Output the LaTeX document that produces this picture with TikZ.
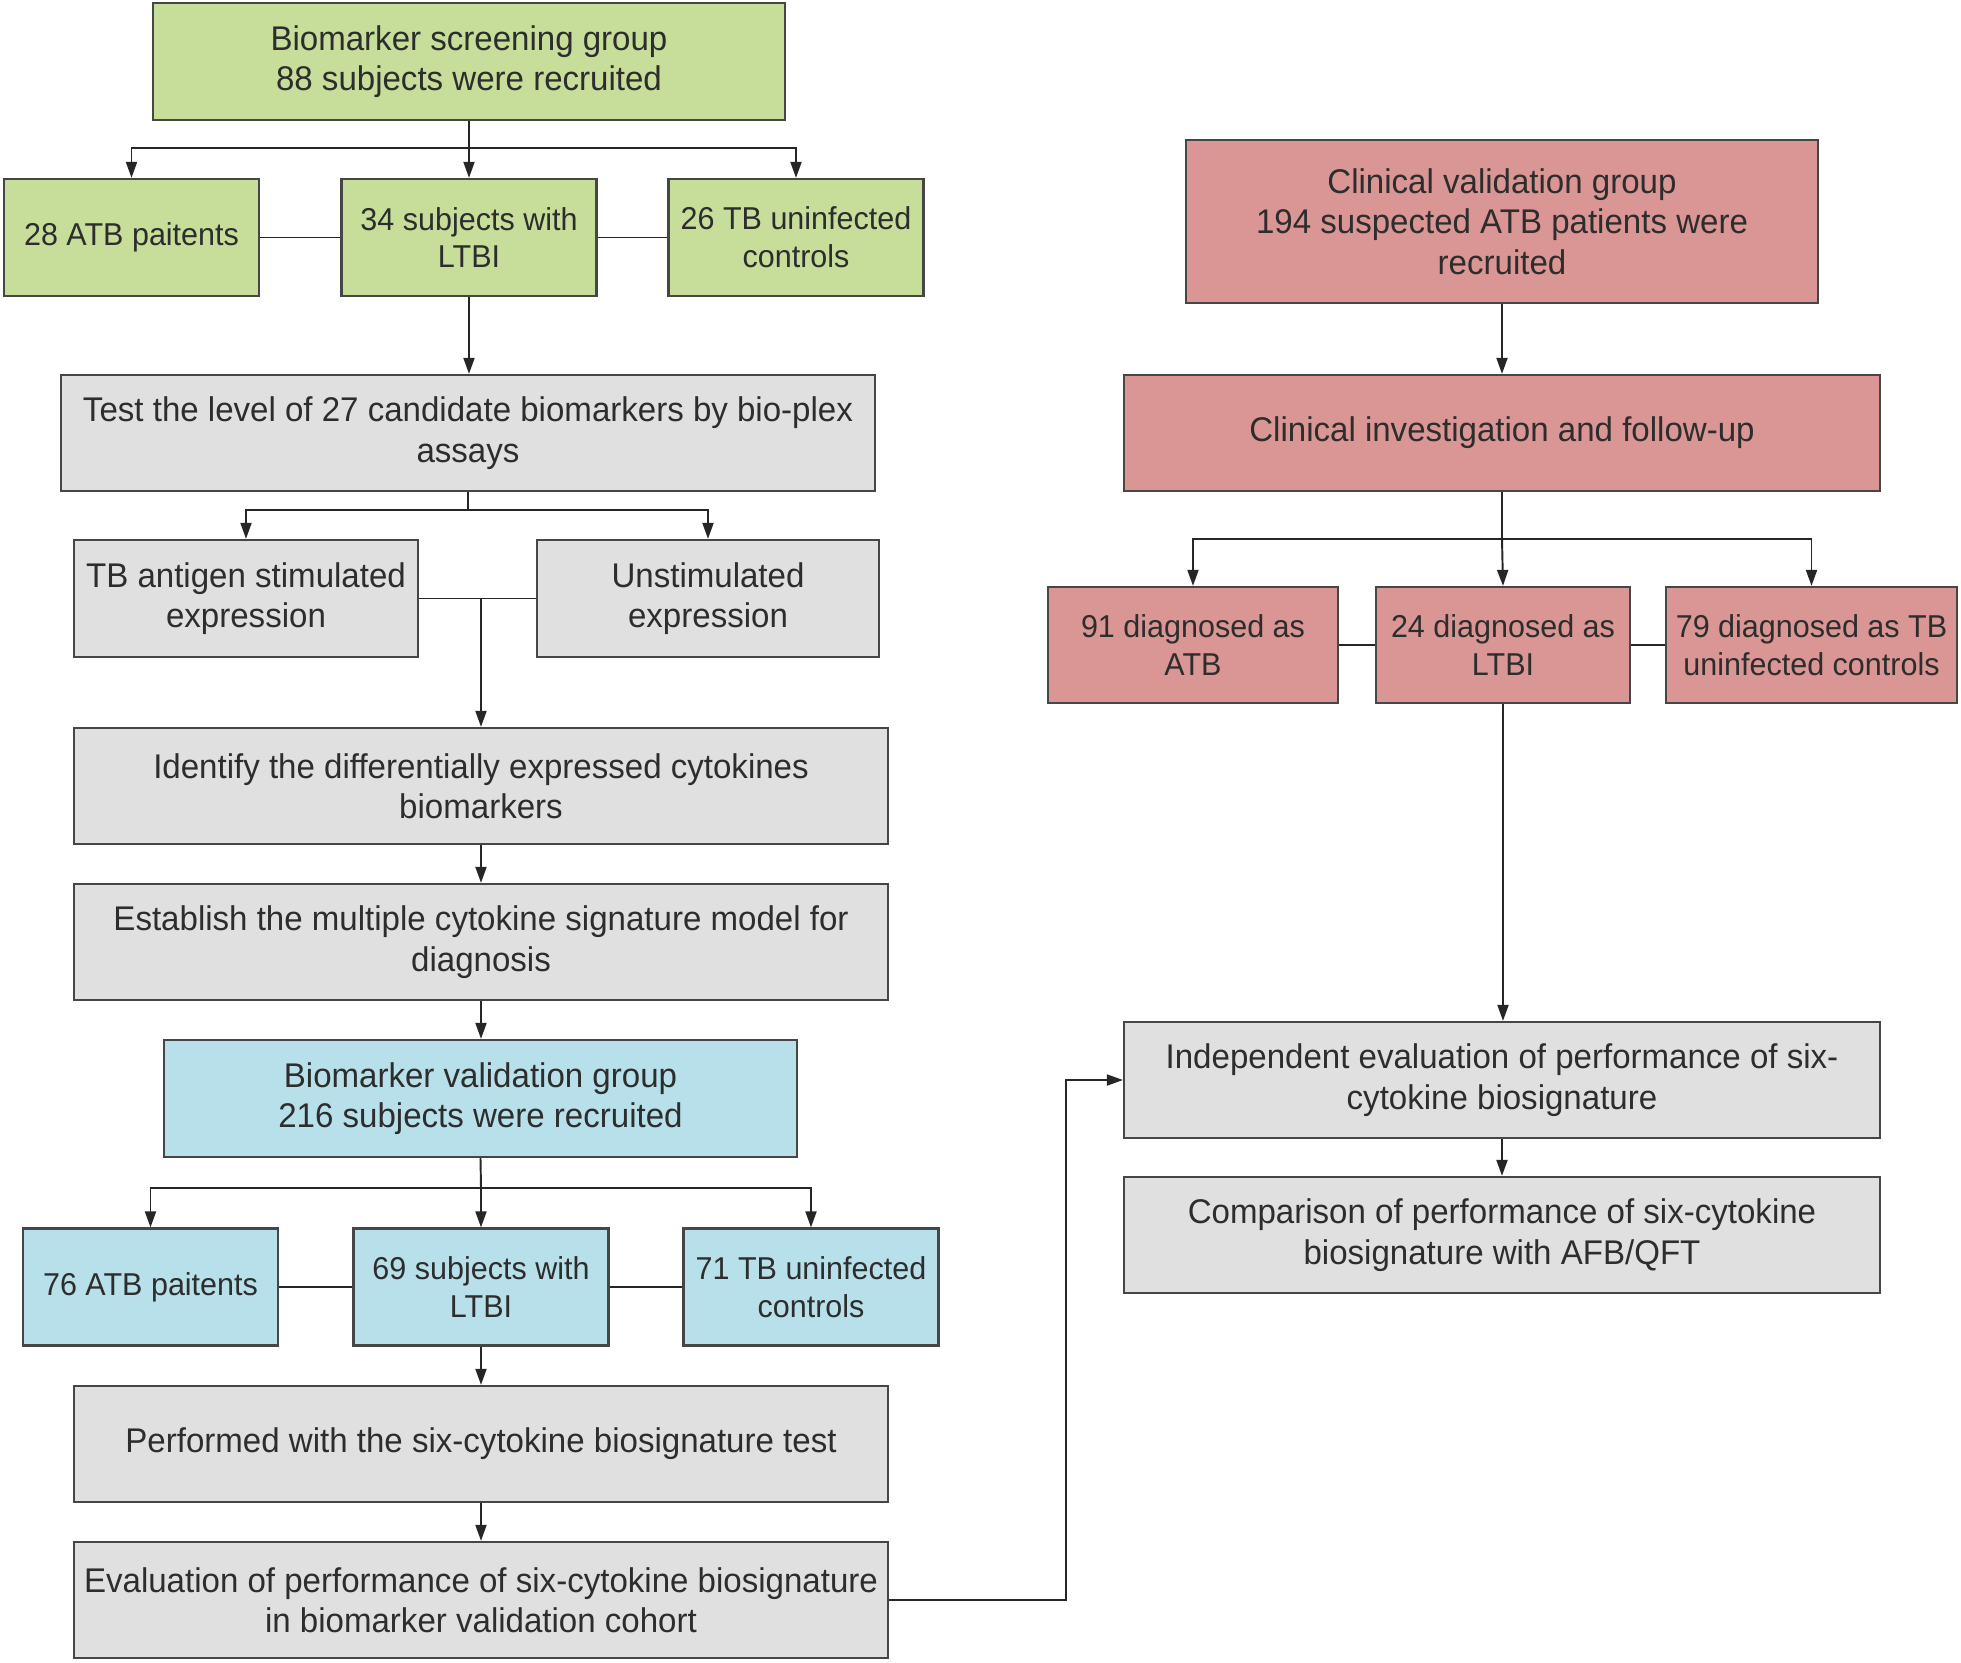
\documentclass[tikz,border=0pt]{standalone}
\usepackage{fontspec}
\setmainfont{Liberation Sans}[FakeStretch=0.965]
\usepackage{xcolor}
\usepackage{tikz}
\usetikzlibrary{shapes,arrows,arrows.meta,positioning}

\definecolor{screengreen}{RGB}{198,222,154}
\definecolor{validblue}{RGB}{183,224,234}
\definecolor{clinred}{RGB}{218,150,148}
\definecolor{stepgray}{RGB}{224,224,224}
\definecolor{edgegray}{RGB}{70,70,70}
\definecolor{textgray}{RGB}{45,45,45}

\begin{document}
\begin{tikzpicture}[
    x=0.02cm, y=-0.02cm,
    box/.style={rectangle, draw=edgegray, line width=1.3pt, text=textgray, align=center, font=\fontsize{19.5}{23}\selectfont, inner sep=2pt},
    green/.style={box, fill=screengreen},
    blue/.style={box, fill=validblue},
    red/.style={box, fill=clinred},
    grey/.style={box, fill=stepgray},
    smallfont/.style={font=\fontsize{18}{21.5}\selectfont},
    small/.style={smallfont, minimum width=5.1cm, minimum height=2.34cm},
    wide/.style={minimum width=16.28cm, minimum height=2.32cm},
    line/.style={draw=black!85, line width=1.1pt},
    arrow/.style={line, -{Triangle[length=0.32cm,width=0.22cm]}}
]
\useasboundingbox (0,0) rectangle (1961,1663);

% Biomarker screening group
\node [green, minimum width=12.64cm, minimum height=2.34cm] (screen) at (469,61.5) {Biomarker screening group\\88 subjects were recruited};
\node [green, small] (atb1) at (131.5,237.5) {28 ATB paitents};
\node [green, small] (ltbi1) at (469,237.5) {34 subjects with\\LTBI};
\node [green, small] (ctl1) at (796,237.5) {26 TB uninfected\\controls};

% Screening steps
\node [grey, wide] (test) at (468,433) {Test the level of 27 candidate biomarkers by bio-plex\\assays};
\node [grey, minimum width=6.88cm, minimum height=2.34cm] (stim) at (246,598.5) {TB antigen stimulated\\expression};
\node [grey, minimum width=6.84cm, minimum height=2.34cm] (unstim) at (708,598.5) {Unstimulated\\expression};
\node [grey, wide] (ident) at (481,786) {Identify the differentially expressed cytokines\\biomarkers};
\node [grey, wide] (estab) at (481,942) {Establish the multiple cytokine signature model for\\diagnosis};

% Biomarker validation group
\node [blue, minimum width=12.66cm, minimum height=2.34cm] (bval) at (480.5,1098.5) {Biomarker validation group\\216 subjects were recruited};
\node [blue, small] (atb2) at (150.5,1287) {76 ATB paitents};
\node [blue, small] (ltbi2) at (481,1287) {69 subjects with\\LTBI};
\node [blue, small] (ctl2) at (811,1287) {71 TB uninfected\\controls};
\node [grey, wide] (perf) at (481,1444) {Performed with the six-cytokine biosignature test};
\node [grey, wide] (eval) at (481,1600) {Evaluation of performance of six-cytokine biosignature\\in biomarker validation cohort};

% Clinical validation group
\node [red, minimum width=12.64cm, minimum height=3.26cm] (clin) at (1502,221.5) {Clinical validation group\\194 suspected ATB patients were\\recruited};
\node [red, minimum width=15.12cm, minimum height=2.32cm] (invest) at (1502,433) {Clinical investigation and follow-up};
\node [red, smallfont, minimum width=5.8cm, minimum height=2.32cm] (diag1) at (1193,645) {91 diagnosed as\\ATB};
\node [red, smallfont, minimum width=5.08cm, minimum height=2.32cm] (diag2) at (1503,645) {24 diagnosed as\\LTBI};
\node [red, smallfont, minimum width=5.82cm, minimum height=2.32cm] (diag3) at (1811.5,645) {79 diagnosed as TB\\uninfected controls};
\node [grey, minimum width=15.12cm, minimum height=2.32cm] (indep) at (1502,1080) {Independent evaluation of performance of six-\\cytokine biosignature};
\node [grey, minimum width=15.12cm, minimum height=2.32cm] (comp) at (1502,1235) {Comparison of performance of six-cytokine\\biosignature with AFB/QFT};

% Branch points
\coordinate (sbranch) at (469,148);
\coordinate (tbranch) at (468,510);
\coordinate (sjoin) at (481,598.5);
\coordinate (vbranch) at (481,1188);
\coordinate (cbranch) at (1502,539);
\coordinate (fb) at (1066,1600);

% Arrows - screening group
\draw [line] (screen.south) -- (sbranch);
\draw [arrow] (sbranch) -| (atb1.north);
\draw [arrow] (sbranch) -- (ltbi1.north);
\draw [arrow] (sbranch) -| (ctl1.north);
\draw [line] (atb1.east) -- (ltbi1.west);
\draw [line] (ltbi1.east) -- (ctl1.west);
\draw [arrow] (ltbi1.south) -- (ltbi1.south |- test.north);

% Arrows - screening steps
\draw [line] (test.south) -- (tbranch);
\draw [arrow] (tbranch) -| (stim.north);
\draw [arrow] (tbranch) -| (unstim.north);
\draw [line] (stim.east) -- (unstim.west);
\draw [arrow] (sjoin) -- (ident.north);
\draw [arrow] (ident) -- (estab);
\draw [arrow] (estab.south) -- (estab.south |- bval.north);

% Arrows - validation group
\draw [line] (bval.south) -- (vbranch);
\draw [arrow] (vbranch) -| (atb2.north);
\draw [arrow] (vbranch) -- (ltbi2.north);
\draw [arrow] (vbranch) -| (ctl2.north);
\draw [line] (atb2.east) -- (ltbi2.west);
\draw [line] (ltbi2.east) -- (ctl2.west);
\draw [arrow] (ltbi2) -- (perf);
\draw [arrow] (perf) -- (eval);
\draw [arrow] (eval.east) -- (fb) |- (indep.west);

% Arrows - clinical group
\draw [arrow] (clin) -- (invest);
\draw [line] (invest.south) -- (cbranch);
\draw [arrow] (cbranch) -| (diag1.north);
\draw [arrow] (cbranch) -- (diag2.north);
\draw [arrow] (cbranch) -| (diag3.north);
\draw [line] (diag1.east) -- (diag2.west);
\draw [line] (diag2.east) -- (diag3.west);
\draw [arrow] (diag2.south) -- (diag2.south |- indep.north);
\draw [arrow] (indep) -- (comp);

\end{tikzpicture}
\end{document}
